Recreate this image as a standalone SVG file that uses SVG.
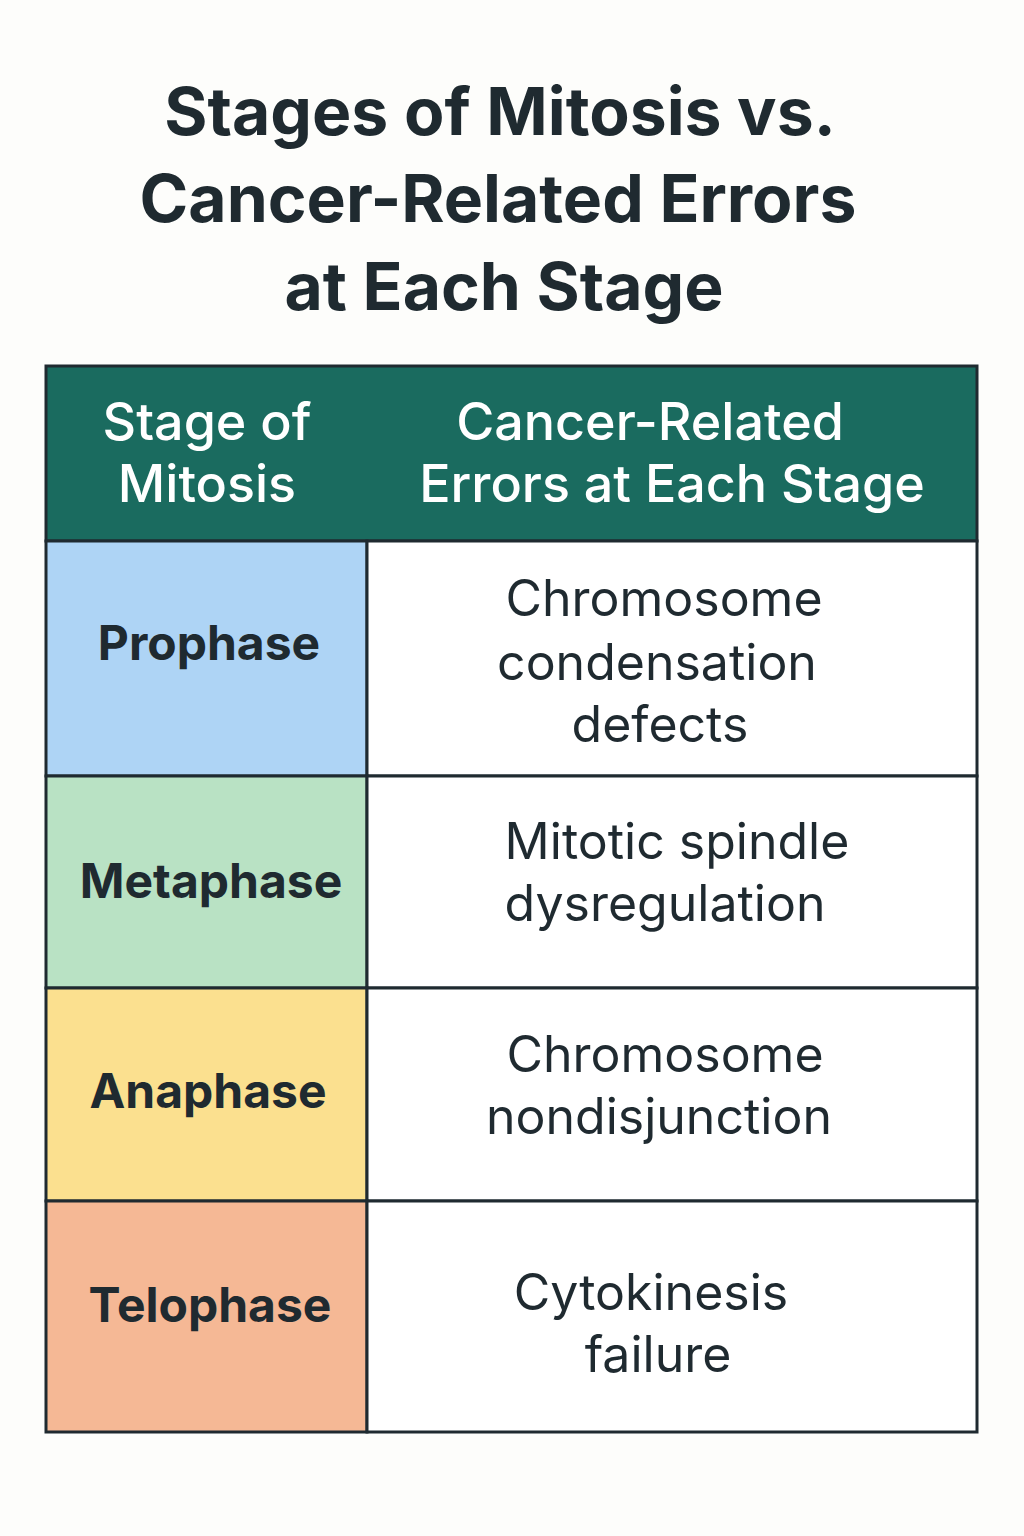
<svg xmlns="http://www.w3.org/2000/svg" width="1024" height="1536" viewBox="0 0 1024 1536">
<style>
.t{font-family:Inter,"Noto Sans",sans-serif;font-weight:700;font-size:66px;fill:#1f2a30;text-anchor:middle}
.h{font-family:Inter,"Noto Sans",sans-serif;font-weight:500;font-size:52px;fill:#fff;text-anchor:middle}
.s{font-family:Inter,"Noto Sans",sans-serif;font-weight:700;font-size:48px;fill:#1f2a30;text-anchor:middle}
.e{font-family:Inter,"Noto Sans",sans-serif;font-weight:400;font-size:50px;fill:#1f2a30;text-anchor:middle}
.c{stroke:#1f2a30;stroke-width:3}
</style>
<rect width="1024" height="1536" fill="#fdfdfb"/>
<g id="title">
<text class="t" x="500" y="135">Stages of Mitosis vs.</text>
<text class="t" x="498" y="222">Cancer-Related Errors</text>
<text class="t" x="504" y="310">at Each Stage</text>
</g>
<g id="header">
<rect class="c" x="46" y="366" width="931" height="175" fill="#1a6b5f"/>
<text class="h" x="207" y="440">Stage of</text>
<text class="h" x="207" y="502">Mitosis</text>
<text class="h" x="650" y="440">Cancer-Related</text>
<text class="h" x="672" y="502">Errors at Each Stage</text>
</g>
<g id="prophase">
<rect class="c" x="46" y="541" width="321" height="235" fill="#aed4f5"/>
<rect class="c" x="367" y="541" width="610" height="235" fill="#fff"/>
<text class="s" x="209" y="660">Prophase</text>
<text class="e" x="664" y="616">Chromosome</text>
<text class="e" x="657" y="680">condensation</text>
<text class="e" x="660" y="742">defects</text>
</g>
<g id="metaphase">
<rect class="c" x="46" y="776" width="321" height="212" fill="#b9e2c4"/>
<rect class="c" x="367" y="776" width="610" height="212" fill="#fff"/>
<text class="s" x="211" y="898">Metaphase</text>
<text class="e" x="677" y="859">Mitotic spindle</text>
<text class="e" x="665" y="921">dysregulation</text>
</g>
<g id="anaphase">
<rect class="c" x="46" y="988" width="321" height="213" fill="#fbe08f"/>
<rect class="c" x="367" y="988" width="610" height="213" fill="#fff"/>
<text class="s" x="208" y="1108">Anaphase</text>
<text class="e" x="665" y="1072">Chromosome</text>
<text class="e" x="659" y="1134">nondisjunction</text>
</g>
<g id="telophase">
<rect class="c" x="46" y="1201" width="321" height="231" fill="#f5b895"/>
<rect class="c" x="367" y="1201" width="610" height="231" fill="#fff"/>
<text class="s" x="210" y="1322">Telophase</text>
<text class="e" x="651" y="1310">Cytokinesis</text>
<text class="e" x="658" y="1372">failure</text>
</g>
</svg>
